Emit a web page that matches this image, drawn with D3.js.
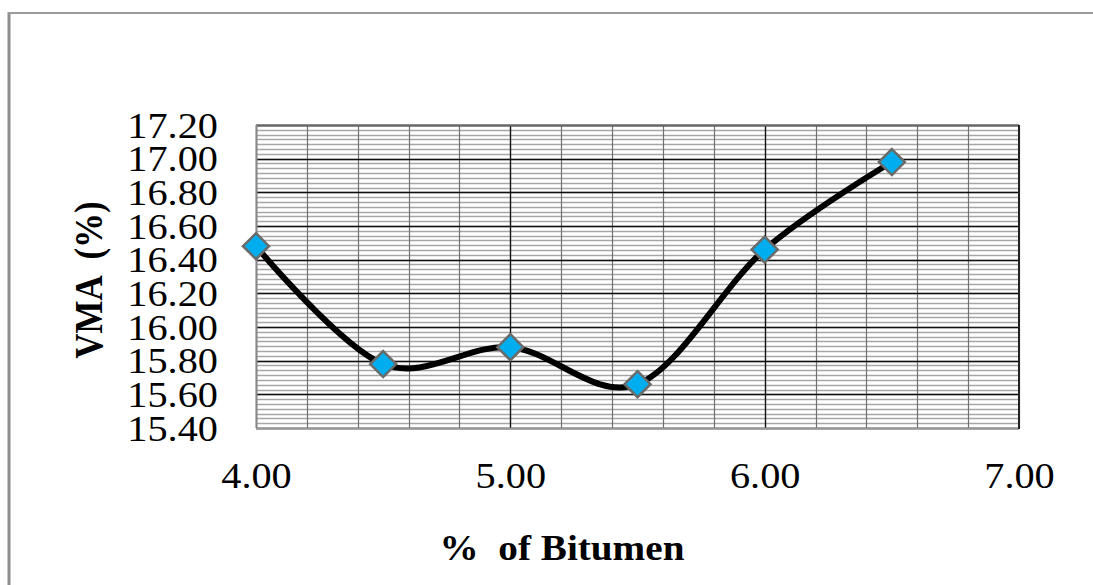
<!DOCTYPE html>
<html>
<head>
<meta charset="utf-8">
<script src="https://cdn.jsdelivr.net/npm/d3@7"></script>
<style>
  html, body { margin: 0; padding: 0; background: #fff; }
  svg { display: block; }
  text { font-family: "Liberation Serif", "Times New Roman", serif; fill: #000; }
</style>
</head>
<body>
<svg id="chart" width="1093" height="585"></svg>
<script>
// ---- data ----
const bitumen = [4.0, 4.5, 5.0, 5.5, 6.0, 6.5];
const vma = [16.48, 15.78, 15.88, 15.66, 16.46, 16.98];
const xTickValues = [4.0, 5.0, 6.0, 7.0];
const yTickValues = [15.4, 15.6, 15.8, 16.0, 16.2, 16.4, 16.6, 16.8, 17.0, 17.2];
const xTitle = "%  of Bitumen";
const yTitle = "VMA  (%)";

// ---- layout ----
const W = 1093, H = 585;
const plot = { left: 256, right: 1019, top: 125, bottom: 428 };
const svg = d3.select("#chart");

const x = d3.scaleLinear().domain([4, 7]).range([plot.left, plot.right]);
const y = d3.scaleLinear().domain([15.4, 17.2]).range([plot.bottom, plot.top]);

// outer chart border (left & top visible)
svg.append("line").attr("x1", 9).attr("x2", 9).attr("y1", 12).attr("y2", H)
  .attr("stroke", "#8e8e8e").attr("stroke-width", 3);
svg.append("line").attr("x1", 8).attr("x2", W).attr("y1", 13).attr("y2", 13)
  .attr("stroke", "#9a9a9a").attr("stroke-width", 2);

const grid = svg.append("g");

// minor horizontal gridlines (7 per major interval, as seen in the picture)
const perMajor = 7;
const yMinor = d3.range((yTickValues.length - 1) * perMajor + 1)
  .map(i => 15.4 + i * 0.2 / perMajor);
grid.selectAll("line.hmin").data(yMinor).join("line")
  .attr("x1", plot.left).attr("x2", plot.right)
  .attr("y1", d => Math.round(y(d)) + 0.5).attr("y2", d => Math.round(y(d)) + 0.5)
  .attr("stroke", "#a6a6a6").attr("stroke-width", 1.3);

// minor vertical gridlines
const xMinorStep = 0.2;
const xMinor = d3.range(Math.round((7 - 4) / xMinorStep) + 1).map(i => 4 + i * xMinorStep);
grid.selectAll("line.vmin").data(xMinor).join("line")
  .attr("y1", plot.top).attr("y2", plot.bottom)
  .attr("x1", d => Math.round(x(d)) + 0.5).attr("x2", d => Math.round(x(d)) + 0.5)
  .attr("stroke", "#707070").attr("stroke-width", 1.2);

// major horizontal gridlines
grid.selectAll("line.hmaj").data(yTickValues).join("line")
  .attr("x1", plot.left).attr("x2", plot.right)
  .attr("y1", d => Math.round(y(d)) + 0.5).attr("y2", d => Math.round(y(d)) + 0.5)
  .attr("stroke", "#111").attr("stroke-width", 1.3);

// major vertical gridlines
grid.selectAll("line.vmaj").data(xTickValues.slice(1, 3)).join("line")
  .attr("y1", plot.top).attr("y2", plot.bottom)
  .attr("x1", d => Math.round(x(d)) + 0.5).attr("x2", d => Math.round(x(d)) + 0.5)
  .attr("stroke", "#111").attr("stroke-width", 1.3);

// plot border
grid.append("line").attr("x1", plot.left).attr("x2", plot.right).attr("y1", plot.top + 0.5).attr("y2", plot.top + 0.5)
  .attr("stroke", "#666").attr("stroke-width", 2);
grid.append("line").attr("x1", plot.left).attr("x2", plot.right).attr("y1", plot.bottom + 0.5).attr("y2", plot.bottom + 0.5)
  .attr("stroke", "#999").attr("stroke-width", 2);
grid.append("line").attr("x1", plot.left + 0.5).attr("x2", plot.left + 0.5).attr("y1", plot.top).attr("y2", plot.bottom)
  .attr("stroke", "#888").attr("stroke-width", 2);
grid.append("line").attr("x1", plot.right).attr("x2", plot.right).attr("y1", plot.top).attr("y2", plot.bottom + 1)
  .attr("stroke", "#222").attr("stroke-width", 2);

// axes (labels only)
const fmt = d3.format(".2f");
const yAxis = svg.append("g").attr("transform", `translate(${plot.left - 38},0)`)
  .call(d3.axisLeft(y).tickValues(yTickValues).tickFormat(fmt).tickSize(0).tickPadding(0));
yAxis.select(".domain").remove();
yAxis.selectAll("text").attr("font-size", 36).attr("font-family", "Liberation Serif")
  .attr("dy", "0.34em").attr("fill", "#000").attr("x", 0)
  .attr("transform", "scale(1.12,1)");

const xAxis = svg.append("g").attr("transform", `translate(0,${plot.bottom})`)
  .call(d3.axisBottom(x).tickValues(xTickValues).tickFormat(fmt).tickSize(0).tickPadding(0));
xAxis.select(".domain").remove();
xAxis.selectAll("text").attr("font-size", 36).attr("font-family", "Liberation Serif")
  .attr("dy", 0).attr("y", 60).attr("fill", "#000")
  .attr("transform", "scale(1.12,1)");

// line
const line = d3.line().x((d, i) => x(bitumen[i])).y(d => y(d)).curve(d3.curveCardinal.tension(0));
svg.append("path").datum(vma).attr("d", line)
  .attr("fill", "none").attr("stroke", "#000").attr("stroke-width", 6).attr("stroke-linejoin", "round");

// markers
const r = 13;
svg.selectAll("path.mk").data(vma).join("path")
  .attr("d", `M0,${-r}L${r},0L0,${r}L${-r},0Z`)
  .attr("transform", (d, i) => `translate(${x(bitumen[i])},${y(d)})`)
  .attr("fill", "#00aeef").attr("stroke", "#6a6a6a").attr("stroke-width", 2.5);

// titles
svg.append("text").attr("transform", `translate(562,560) scale(1.12,1)`)
  .attr("text-anchor", "middle").attr("font-size", 35).attr("font-weight", "bold")
  .style("white-space", "pre").text(xTitle);
svg.append("text").attr("transform", `translate(102,280) rotate(-90) scale(1,1.12)`)
  .attr("text-anchor", "middle").attr("font-size", 35).attr("font-weight", "bold")
  .style("white-space", "pre").text(yTitle);
</script>
</body>
</html>
